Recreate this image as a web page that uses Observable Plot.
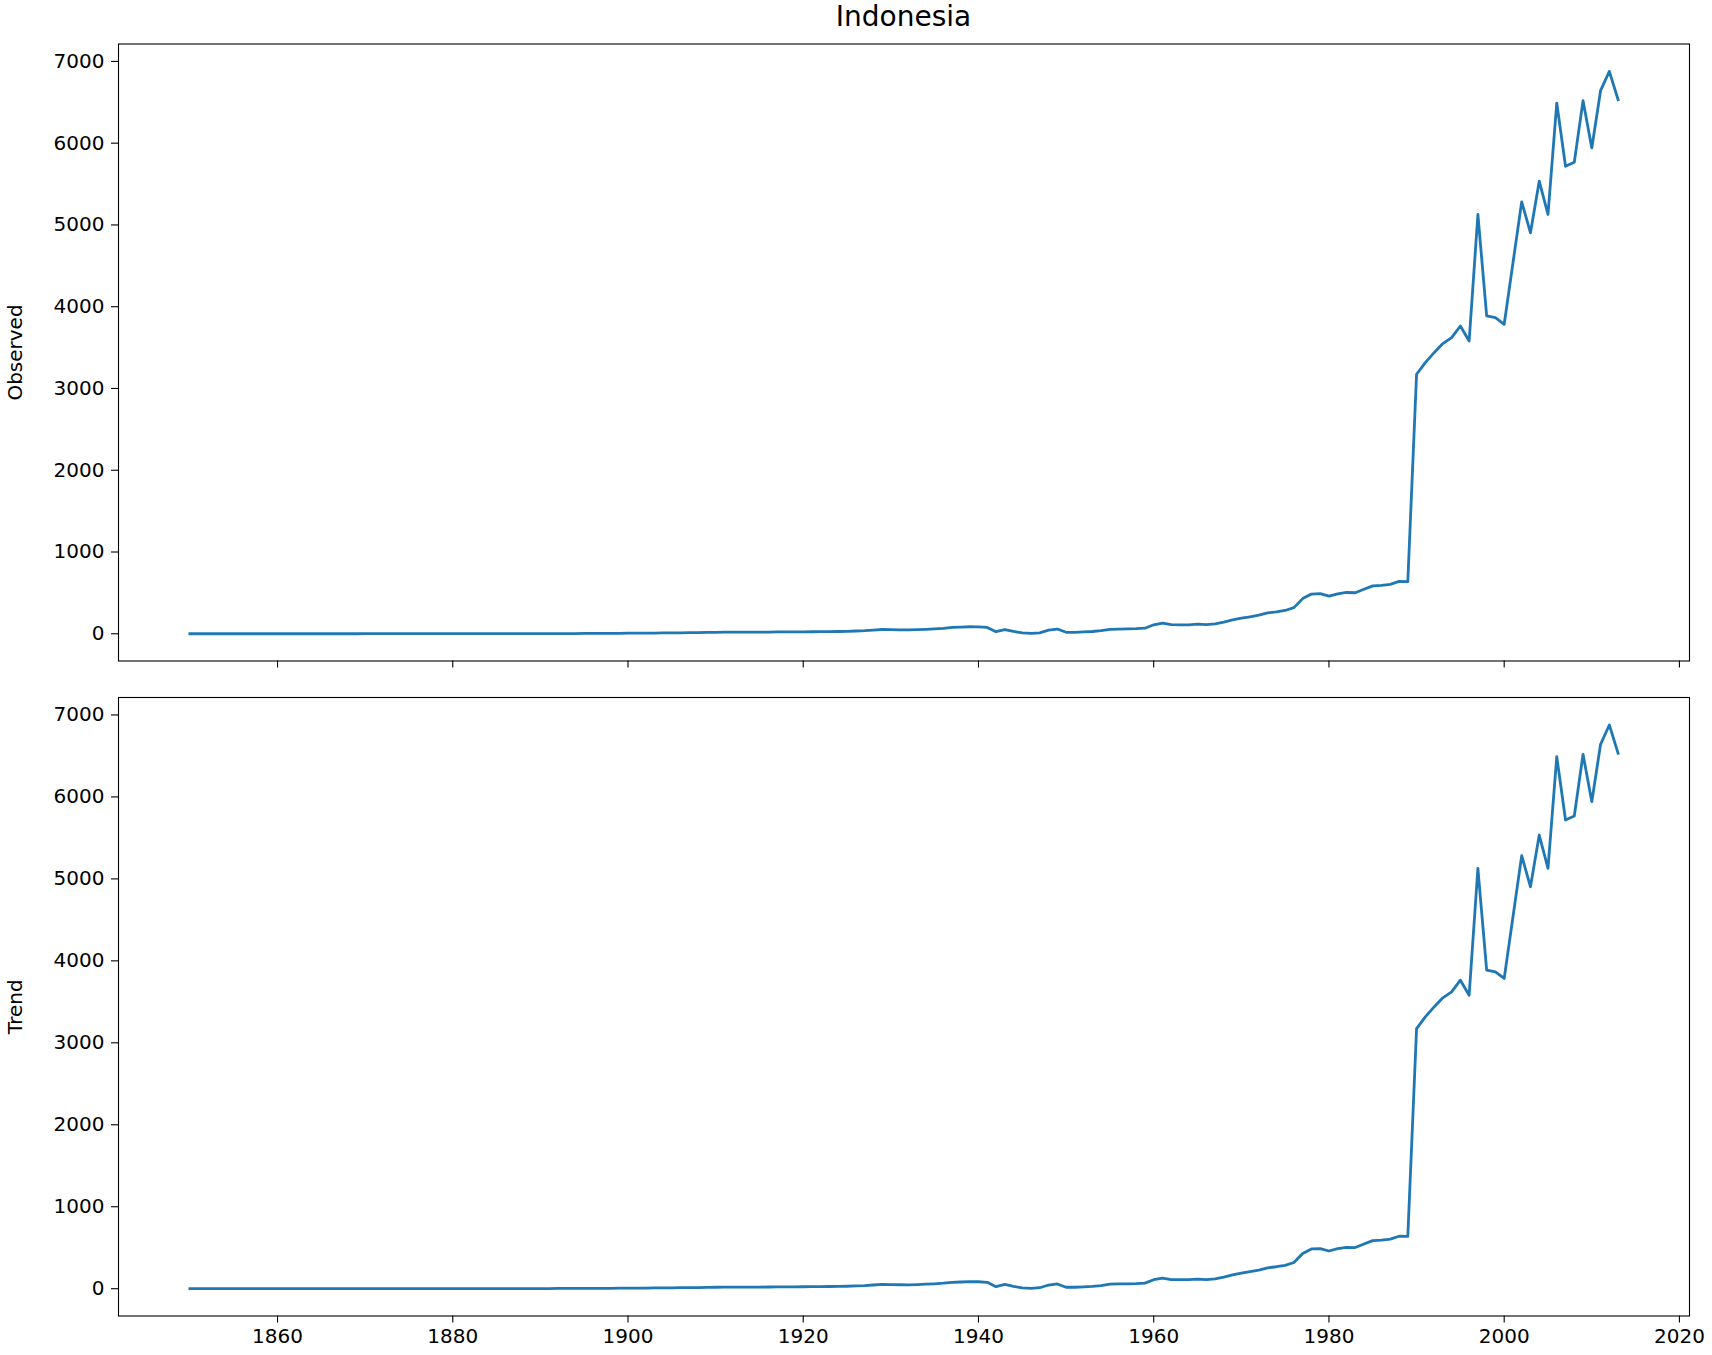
<!DOCTYPE html>
<html>
<head>
<meta charset="utf-8">
<script src="https://cdn.jsdelivr.net/npm/d3@7"></script>
<script src="https://cdn.jsdelivr.net/npm/@observablehq/plot@0.6"></script>
<style>
html, body { margin: 0; padding: 0; background: #fff; }
#wrap { position: relative; width: 1712px; height: 1355px; font-family: "DejaVu Sans", sans-serif; background: #fff; }
.panel { position: absolute; left: 0; }
#title { position: absolute; left: 118px; width: 1571px; top: 0; text-align: center; font-size: 28px; line-height: 34px; color: #000; }
</style>
</head>
<body>
<div id="wrap">
  <div id="top" class="panel" style="top:0px"></div>
  <div id="bot" class="panel" style="top:680px"></div>
  <div id="title">Indonesia</div>
</div>
<script>
const chartTitle = "Indonesia";
const panelLabels = ["Observed", "Trend"];

const years = [
  1850,1851,1852,1853,1854,1855,1856,1857,1858,1859,
  1860,1861,1862,1863,1864,1865,1866,1867,1868,1869,
  1870,1871,1872,1873,1874,1875,1876,1877,1878,1879,
  1880,1881,1882,1883,1884,1885,1886,1887,1888,1889,
  1890,1891,1892,1893,1894,1895,1896,1897,1898,1899,
  1900,1901,1902,1903,1904,1905,1906,1907,1908,1909,
  1910,1911,1912,1913,1914,1915,1916,1917,1918,1919,
  1920,1921,1922,1923,1924,1925,1926,1927,1928,1929,
  1930,1931,1932,1933,1934,1935,1936,1937,1938,1939,
  1940,1941,1942,1943,1944,1945,1946,1947,1948,1949,
  1950,1951,1952,1953,1954,1955,1956,1957,1958,1959,
  1960,1961,1962,1963,1964,1965,1966,1967,1968,1969,
  1970,1971,1972,1973,1974,1975,1976,1977,1978,1979,
  1980,1981,1982,1983,1984,1985,1986,1987,1988,1989,
  1990,1991,1992,1993,1994,1995,1996,1997,1998,1999,
  2000,2001,2002,2003,2004,2005,2006,2007,2008,2009,
  2010,2011,2012,2013
];

const observed = [
  0,0,0,0,0,0,0,0,0,0,
  0,0,0,0,0,0,0,0,0,0,
  1,1,1,1,1,1,1,1,1,1,
  1,1,1,1,1,1,1,1,2,2,
  2,2,3,3,3,4,4,5,5,6,
  7,7,8,9,10,11,12,13,14,16,
  18,19,19,20,20,20,21,22,22,23,
  24,25,26,27,28,30,34,38,45,52,
  50,48,47,50,55,60,67,78,82,86,
  85,78,25,52,28,10,5,12,45,58,
  18,18,22,28,38,55,58,60,62,68,
  110,130,112,110,110,118,112,120,142,170,
  190,208,228,255,268,285,320,430,485,490,
  460,488,505,502,545,586,592,605,640,638,
  3174,3317,3438,3549,3622,3764,3581,5128,3887,3866,
  3785,4535,5283,4904,5535,5128,6491,5718,5767,6520,
  5942,6642,6878,6532
];

// The trend panel shows the same series as the observed panel
const trend = [...observed];

const xTicks = [1860, 1880, 1900, 1920, 1940, 1960, 1980, 2000, 2020];
const yTicks = [0, 1000, 2000, 3000, 4000, 5000, 6000, 7000];

function panel(values, label, showXLabels, height, mt, mb) {
  const data = years.map((y, i) => ({ year: y, value: values[i] }));
  return Plot.plot({
    width: 1712,
    height: height,
    marginLeft: 118,
    marginRight: 23,
    marginTop: mt,
    marginBottom: mb,
    style: { fontFamily: '"DejaVu Sans", sans-serif', fontSize: "20px", color: "#000", background: "transparent", overflow: "visible" },
    x: { domain: [1841.85, 2021.15] },
    y: { domain: [-333, 7213] },
    marks: [
      Plot.axisY(yTicks, { tickSize: 7, tickPadding: 7, label: null, stroke: "#000", strokeWidth: 1.1, fill: "#000", fontSize: 20, tickFormat: d => String(d) }),
      Plot.axisX(xTicks, { tickSize: 7, tickPadding: 6, label: null, stroke: "#000", strokeWidth: 1.1, fill: "#000", fontSize: 20, tickFormat: showXLabels ? (d => String(d)) : (() => "") }),
      Plot.line(data, { x: "year", y: "value", stroke: "#1f77b4", strokeWidth: 2.8, strokeLinejoin: "round", strokeLinecap: "square" }),
      Plot.frame({ stroke: "#000", strokeWidth: 1.1 }),
      Plot.text([label], { frameAnchor: "left", textAnchor: "middle", dx: -103, rotate: -90, text: d => d, fontSize: 20, fill: "#000" })
    ]
  });
}

document.getElementById("title").textContent = chartTitle;
document.getElementById("top").append(panel(observed, panelLabels[0], false, 680, 43.5, 19.5));
document.getElementById("bot").append(panel(trend, panelLabels[1], true, 675, 17, 39.5));
</script>
</body>
</html>
